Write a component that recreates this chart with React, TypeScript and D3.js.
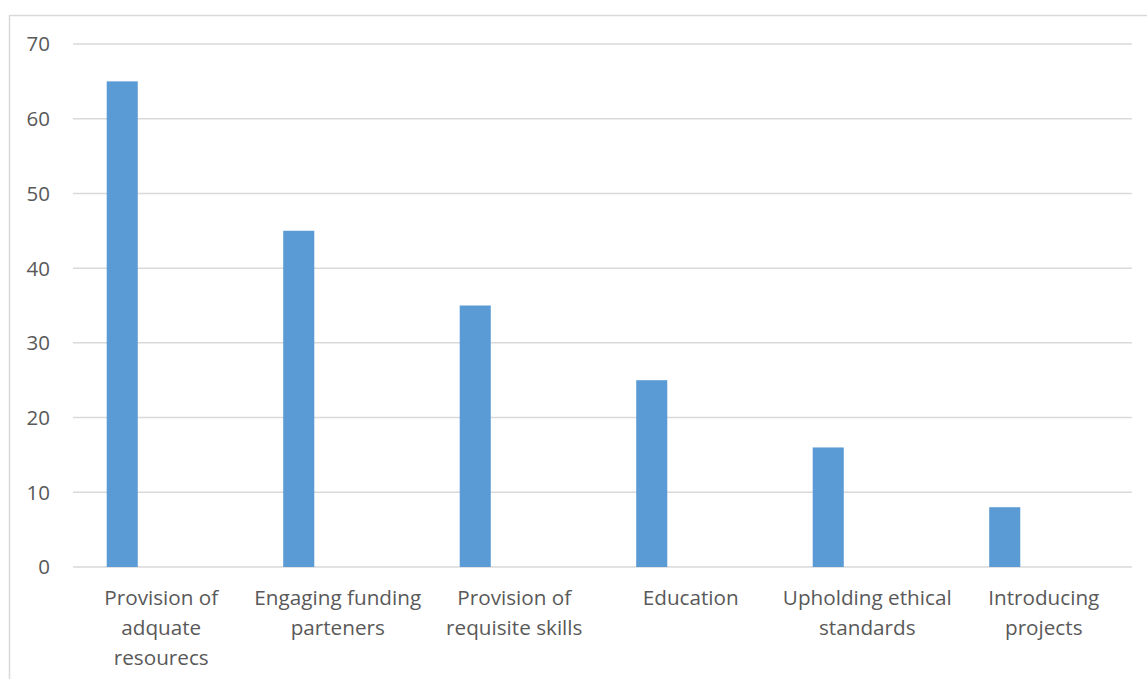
import React from "react";
import * as d3 from "d3";

const categories = [
  ["Provision of", "adquate", "resourecs"],
  ["Engaging funding", "parteners"],
  ["Provision of", "requisite skills"],
  ["Education"],
  ["Upholding ethical", "standards"],
  ["Introducing", "projects"],
];
const values = [65, 45, 35, 25, 16, 8];
const yTicks = [0, 10, 20, 30, 40, 50, 60, 70];

const W = 1147;
const H = 679;
const FONT = "'Open Sans', sans-serif";

export default function App() {
  const x0 = 73, x1 = 1132, yTop = 44, yBot = 567;
  const x = d3.scaleBand<number>().domain(d3.range(categories.length)).range([x0, x1]);
  const y = d3.scaleLinear().domain([0, 70]).range([yBot, yTop]);
  const bw = x.bandwidth();
  const barOff = bw * 0.191;
  const barW = bw * 0.176;
  return (
    <svg width={W} height={H} style={{ position: "absolute", left: 0, top: 0 }}>
      <rect x={0} y={0} width={W} height={H} fill="#fff" />
      <rect x={9.5} y={15.5} width={W + 10} height={H + 10} fill="none" stroke="#d9d9d9" strokeWidth={1.5} />
      {yTicks.map((t) => (
        <g key={t}>
          <line x1={x0} x2={x1} y1={y(t)} y2={y(t)} stroke="#d9d9d9" strokeWidth={1.5} />
          <text x={50} y={y(t)} dy="0.36em" textAnchor="end" fontFamily={FONT} fontSize={20.5} fill="#595959">
            {t}
          </text>
        </g>
      ))}
      {values.map((v, i) => (
        <rect key={i} x={(x(i) as number) + barOff} y={y(v)} width={barW} height={y(0) - y(v)} fill="#5b9bd5" />
      ))}
      {categories.map((lines, i) => (
        <text key={i} x={(x(i) as number) + bw / 2} y={605} textAnchor="middle" fontFamily={FONT} fontSize={20.7} fill="#595959">
          {lines.map((l, j) => (
            <tspan key={j} x={(x(i) as number) + bw / 2} dy={j === 0 ? 0 : 30}>
              {l}
            </tspan>
          ))}
        </text>
      ))}
    </svg>
  );
}
